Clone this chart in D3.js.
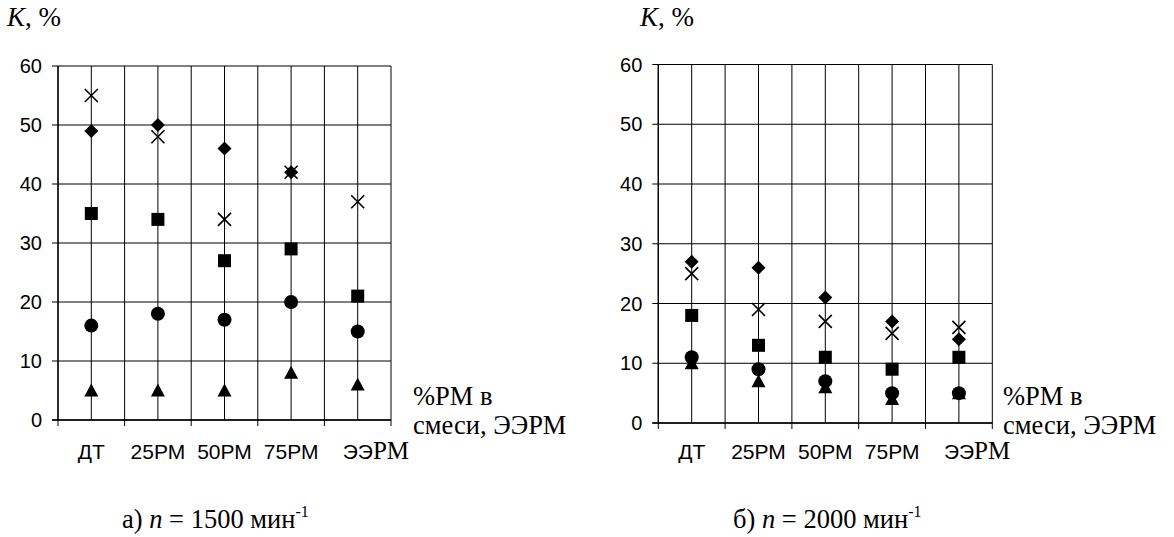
<!DOCTYPE html>
<html>
<head>
<meta charset="utf-8">
<script src="https://cdn.jsdelivr.net/npm/d3@7"></script>
<style>
  body { margin: 0; background: #fff; }
  svg { display: block; }
</style>
</head>
<body>
<div id="chart"></div>
<script>
// categories and tick labels
const categories = ["ДТ", "25РМ", "50РМ", "75РМ", "ЭЭРМ"];
const yTicks = [0, 10, 20, 30, 40, 50, 60];

// n = 1500 min-1
const diamond1500 = [49, 50, 46, 42, null];
const square1500 = [35, 34, 27, 29, 21];
const triangle1500 = [5, 5, 5, 8, 6];
const cross1500 = [55, 48, 34, 42, 37];
const circle1500 = [16, 18, 17, 20, 15];

// n = 2000 min-1
const diamond2000 = [27, 26, 21, 17, 14];
const square2000 = [18, 13, 11, 9, 11];
const triangle2000 = [10, 7, 6, 4, 5];
const cross2000 = [25, 19, 17, 15, 16];
const circle2000 = [11, 9, 7, 5, 5];

const width = 1174, height = 537;
const sans = "'Liberation Sans', Arial, sans-serif";
const serif = "'Liberation Serif', 'Times New Roman', serif";

const svg = d3.select("#chart")
    .append("svg")
    .attr("width", width)
    .attr("height", height);

svg.append("rect").attr("width", width).attr("height", height).attr("fill", "#fff");

// custom marker shapes (Excel-like)
const shapes = {
    diamond: { draw(ctx) { const r = 7; ctx.moveTo(0, -r); ctx.lineTo(r, 0); ctx.lineTo(0, r); ctx.lineTo(-r, 0); ctx.closePath(); } },
    square: { draw(ctx) { const r = 6.5; ctx.rect(-r, -r, 2 * r, 2 * r); } },
    triangle: { draw(ctx) { ctx.moveTo(0, -7); ctx.lineTo(7, 6); ctx.lineTo(-7, 6); ctx.closePath(); } },
    circle: { draw(ctx) { ctx.arc(0, 0, 7, 0, 2 * Math.PI); } },
    cross: { draw(ctx) { const r = 6.5; ctx.moveTo(-r, -r); ctx.lineTo(r, r); ctx.moveTo(r, -r); ctx.lineTo(-r, r); } }
};

const panels = [
    {
        left: 58, right: 391, top: 66, bottom: 420,
        titleX: 7, axisNoteX: 413, subX: 122, rpm: "1500",
        prefix: "а) ",
        series: [
            { shape: "diamond", values: diamond1500 },
            { shape: "square", values: square1500 },
            { shape: "triangle", values: triangle1500 },
            { shape: "cross", values: cross1500 },
            { shape: "circle", values: circle1500 }
        ]
    },
    {
        left: 658.3, right: 992.3, top: 64.5, bottom: 423,
        titleX: 640, axisNoteX: 1003, subX: 733, rpm: "2000",
        prefix: "б) ",
        series: [
            { shape: "diamond", values: diamond2000 },
            { shape: "square", values: square2000 },
            { shape: "triangle", values: triangle2000 },
            { shape: "cross", values: cross2000 },
            { shape: "circle", values: circle2000 }
        ]
    }
];

panels.forEach(p => {
    const g = svg.append("g");

    const x = d3.scaleBand().domain(categories).range([p.left, p.right]).padding(0);
    const y = d3.scaleLinear().domain([0, 60]).range([p.bottom, p.top]);
    const bw = x.bandwidth();

    // horizontal grid
    g.append("g")
        .selectAll("line")
        .data(yTicks)
        .join("line")
        .attr("x1", p.left - 6)
        .attr("x2", p.right)
        .attr("y1", d => y(d))
        .attr("y2", d => y(d))
        .attr("stroke", "#000")
        .attr("stroke-width", 1);

    // vertical grid: category centres and boundaries
    const vlines = [];
    categories.forEach(c => { vlines.push(x(c)); vlines.push(x(c) + bw / 2); });
    vlines.push(p.right);
    g.append("g")
        .selectAll("line")
        .data(vlines)
        .join("line")
        .attr("x1", d => d)
        .attr("x2", d => d)
        .attr("y1", y(60))
        .attr("y2", y(0))
        .attr("stroke", "#000")
        .attr("stroke-width", 1);

    // x tick marks at boundaries
    const bounds = categories.map(c => x(c)).concat([p.right]);
    g.append("g")
        .selectAll("line")
        .data(bounds)
        .join("line")
        .attr("x1", d => d)
        .attr("x2", d => d)
        .attr("y1", y(0))
        .attr("y2", y(0) + 6)
        .attr("stroke", "#000");

    // axis lines slightly heavier
    g.append("line").attr("x1", p.left).attr("x2", p.left).attr("y1", y(60)).attr("y2", y(0))
        .attr("stroke", "#000").attr("stroke-width", 1.3);
    g.append("line").attr("x1", p.left - 6).attr("x2", p.right).attr("y1", y(0)).attr("y2", y(0))
        .attr("stroke", "#000").attr("stroke-width", 1.3);

    // y tick labels
    g.append("g")
        .selectAll("text")
        .data(yTicks)
        .join("text")
        .attr("x", p.left - 16)
        .attr("y", d => y(d))
        .attr("dy", "0.35em")
        .attr("text-anchor", "end")
        .style("font-family", sans)
        .style("font-size", "20px")
        .text(d => d);

    // x tick labels
    const xl = g.append("g")
        .selectAll("text")
        .data(categories)
        .join("text")
        .attr("x", d => d === "ЭЭРМ" ? x(d) + bw / 2 - 15 : x(d) + bw / 2)
        .attr("y", 459)
        .attr("text-anchor", d => d === "ЭЭРМ" ? "start" : "middle")
        .style("font-family", sans)
        .style("font-size", "21px");
    xl.each(function (d) {
        const t = d3.select(this);
        if (d === "ЭЭРМ") {
            t.append("tspan").text("ЭЭ");
            t.append("tspan").style("font-family", serif)
                .style("font-size", "25px").text("РМ");
        } else {
            t.text(d);
        }
    });

    // markers
    p.series.forEach(s => {
        const pts = s.values.map((v, i) => ({ c: categories[i], v })).filter(d => d.v !== null);
        const sym = d3.symbol().type(shapes[s.shape]);
        g.append("g")
            .selectAll("path")
            .data(pts)
            .join("path")
            .attr("transform", d => `translate(${x(d.c) + bw / 2},${y(d.v)})`)
            .attr("d", sym())
            .attr("fill", s.shape === "cross" ? "none" : "#000")
            .attr("stroke", "#000")
            .attr("stroke-width", s.shape === "cross" ? 1.6 : 0);
    });

    // y title
    const yt = svg.append("text")
        .attr("x", p.titleX)
        .attr("y", 26)
        .style("font-family", serif)
        .style("font-size", "27px");
    yt.append("tspan").style("font-style", "italic").text("K");
    yt.append("tspan").text(", %");

    // x axis note
    const note = svg.append("text")
        .style("font-family", serif)
        .style("font-size", "26.5px");
    note.append("tspan").attr("x", p.axisNoteX).attr("y", 405).text("%РМ в");
    note.append("tspan").attr("x", p.axisNoteX).attr("y", 434).text("смеси, ЭЭРМ");

    // subtitle
    const sub = svg.append("text")
        .attr("x", p.subX)
        .attr("y", 528)
        .style("font-family", serif)
        .style("font-size", "26.5px");
    sub.append("tspan").text(p.prefix);
    sub.append("tspan").style("font-style", "italic").text("n");
    sub.append("tspan").text(" = " + p.rpm + " мин");
    sub.append("tspan").attr("dy", -11).style("font-size", "16px").text("-1");
});
</script>
</body>
</html>
